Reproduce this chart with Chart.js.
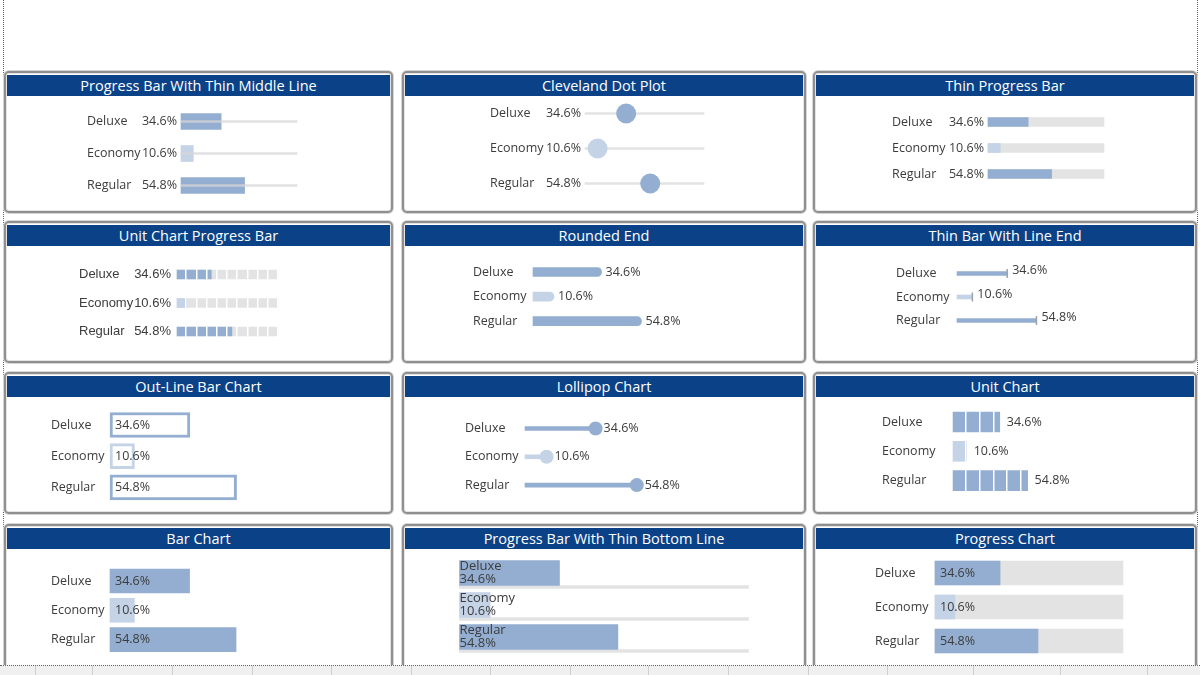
<!DOCTYPE html>
<html>
<head>
<meta charset="utf-8">
<script src="https://cdn.jsdelivr.net/npm/chart.js@4.4.1/dist/chart.umd.min.js"></script>
<style>
  html, body { margin: 0; padding: 0; background: #fff; }
  body { width: 1200px; height: 675px; position: relative; overflow: hidden; font-family: "Open Sans", "Noto Sans", sans-serif; }
  .edge { position: absolute; top: 0; height: 665px; border-left: 1px dotted #666; }
  .panel { position: absolute; box-sizing: border-box; border: 2px solid #8f8f8f; border-radius: 5px; background: #fff;
           box-shadow: 0 0 0 1px #d6d6d6, inset 0 0 0 1px #e4e4e4; overflow: hidden; }
  .panel canvas { position: absolute; left: 0; top: 0; }
  .title { position: absolute; left: 1px; right: 1px; top: 2px; height: 21px; background: #0b4287; color: #fff;
           font-size: 14.5px; line-height: 21px; text-align: center; z-index: 2; white-space: nowrap; }
  .strip { position: absolute; left: 0; top: 665px; width: 1200px; height: 10px; background: #f0f0f0; border-top: 1px dotted #666; z-index: 5; }
  .strip i { position: absolute; top: 0; height: 10px; border-left: 1px solid #cfcfcf; }
</style>
</head>
<body>
<div class="edge" style="left:3px"></div>
<div class="edge" style="left:1197px"></div>
<div class="strip" id="strip"></div>
<script>
// Data
const categories = ['Deluxe', 'Economy', 'Regular'];
const shares = [34.6, 10.6, 54.8];
const fullScale = [100, 100, 100];
const shareColors = ['#93aed0', '#c5d3e6', '#93aed0'];
const trackColor = '#e3e3e3';

// Page grid
const cols = [{x: 4, w: 389}, {x: 402, w: 404}, {x: 813, w: 384}];
const rows = [{y: 71, h: 142}, {y: 221, h: 142}, {y: 372, h: 142}, {y: 524, h: 146}];
const stripLines = [35, 92, 172, 252, 331, 411, 490, 570, 648, 728, 808, 887, 973, 1060, 1147];

const SEGOE = '"Open Sans", "Noto Sans", sans-serif';
const ARIAL = '"Liberation Sans", Arial, sans-serif';
const TEXT = '#3c3c3c';

function pct(v) { return v.toFixed(1) + '%'; }

// value labels drawn from the bar / point elements
const barText = {
    id: 'barText',
    afterDraw(chart, args, o) {
        if (!o.mode) return;
        const {ctx, chartArea, scales} = chart;
        const ds = chart.data.datasets[o.dataset];
        const meta = chart.getDatasetMeta(o.dataset);
        ctx.save();
        ctx.font = o.font;
        ctx.fillStyle = TEXT;
        ctx.textBaseline = 'middle';
        meta.data.forEach((el, i) => {
            const txt = pct(ds.data[i]);
            const y = el.y + (o.dy || 0);
            const base = scales.x.getPixelForValue(0);
            if (o.mode === 'before') {
                ctx.textAlign = 'right';
                ctx.fillText(txt, chartArea.left - o.dx, y);
            } else if (o.mode === 'after') {
                ctx.textAlign = 'left';
                ctx.fillText(txt, el.x + o.dx, y);
            } else if (o.mode === 'inside') {
                ctx.textAlign = 'left';
                ctx.fillText(txt, base + o.dx, y);
            } else if (o.mode === 'stacked') {
                ctx.textAlign = 'left';
                ctx.fillText(chart.data.labels[i], base + o.dx, y - o.lead / 2);
                ctx.fillText(txt, base + o.dx, y + o.lead / 2);
            }
        });
        ctx.restore();
    }
};
Chart.register(barText);

function addPanel(col, row, title, g, datasets, text, units) {
    const c = cols[col], r = rows[row];
    const panel = document.createElement('div');
    panel.className = 'panel';
    panel.style.cssText = `left:${c.x}px;top:${r.y}px;width:${c.w}px;height:${r.h}px`;
    const head = document.createElement('div');
    head.className = 'title';
    head.textContent = title;
    const cv = document.createElement('canvas');
    const ox = c.x + 2, oy = r.y + 2, cw = c.w - 4, ch = r.h - 4;
    cv.width = cw;
    cv.height = ch;
    panel.append(cv, head);
    document.body.appendChild(panel);

    const showCats = g.labelX !== undefined;
    const padding = {
        left: (showCats ? g.labelX : g.x0) - ox,
        right: ox + cw - g.x1,
        top: g.y0 - g.gap / 2 - oy,
        bottom: oy + ch - (g.y0 + 2.5 * g.gap)
    };
    const xScale = units ? {
        min: 0, max: 100, display: true,
        ticks: {display: false, stepSize: 10},
        grid: {color: '#ffffff', lineWidth: 1.5, drawTicks: false, z: 1},
        border: {display: false}
    } : {min: 0, max: 100, display: false};

    const yScale = {
        display: showCats,
        grid: {display: false},
        border: {display: false},
        ticks: {crossAlign: 'far', padding: 0, color: TEXT, font: {family: g.font || SEGOE, size: g.catSize || 12.5}}
    };
    if (showCats) yScale.afterFit = s => { s.width = g.x0 - g.labelX; };

    new Chart(cv, {
        type: 'bar',
        data: {labels: categories, datasets: datasets},
        options: {
            indexAxis: 'y',
            responsive: false,
            animation: false,
            events: [],
            layout: {padding: padding},
            plugins: {legend: {display: false}, tooltip: {enabled: false}, barText: text},
            scales: {x: xScale, y: yScale}
        }
    });
}

const bar = (data, color, thick, more) => Object.assign({data: data, backgroundColor: color, barThickness: thick,
    grouped: false, clip: false}, more || {});
const dots = (radius, more) => Object.assign({type: 'line', indexAxis: 'y', data: shares, showLine: false, pointRadius: radius,
    pointHoverRadius: radius, pointBackgroundColor: shareColors, pointBorderWidth: 0, clip: false}, more || {});
const fv = '12.5px ' + SEGOE;

// Row 1
addPanel(0, 0, 'Progress Bar With Thin Middle Line',
    {labelX: 87, x0: 181, x1: 297, y0: 121.5, gap: 32},
    [bar(fullScale, 'rgba(214,214,214,0.75)', 2), bar(shares, shareColors, 16)],
    {mode: 'before', dataset: 1, dx: 4, font: fv});

addPanel(1, 0, 'Cleveland Dot Plot',
    {labelX: 490, x0: 585, x1: 704, y0: 114, gap: 36},
    [dots(10), bar(fullScale, trackColor, 2)],
    {mode: 'before', dataset: 0, dx: 4, font: fv});

addPanel(2, 0, 'Thin Progress Bar',
    {labelX: 892, x0: 988, x1: 1104, y0: 122, gap: 26},
    [bar(shares, shareColors, 9), bar(fullScale, trackColor, 9)],
    {mode: 'before', dataset: 0, dx: 4, font: fv});

// Row 2
addPanel(0, 1, 'Unit Chart Progress Bar',
    {labelX: 79, x0: 176, x1: 278, y0: 274.5, gap: 28.5, font: ARIAL, catSize: 13},
    [bar(shares, shareColors, 9), bar(fullScale, trackColor, 9)],
    {mode: 'before', dataset: 0, dx: 5, font: '13px ' + ARIAL}, true);

addPanel(1, 1, 'Rounded End',
    {labelX: 473, x0: 533, x1: 731, y0: 272, gap: 24.6},
    [bar(shares, shareColors, 9, {borderRadius: 5, borderSkipped: 'start'})],
    {mode: 'after', dataset: 0, dx: 4, font: fv});

addPanel(2, 1, 'Thin Bar With Line End',
    {labelX: 896, x0: 957, x1: 1102, y0: 273.5, gap: 23.5},
    [dots(4.5, {pointStyle: 'line', pointRotation: 90, pointBorderColor: '#9aa2ae', pointBorderWidth: 1.5}),
     bar(shares, shareColors, 4)],
    {mode: 'after', dataset: 1, dx: 5, dy: -3, font: fv});

// Row 3
addPanel(0, 2, 'Out-Line Bar Chart',
    {labelX: 51, x0: 110, x1: 341, y0: 425, gap: 31.2},
    [bar(shares, '#ffffff', 25, {borderColor: shareColors, borderWidth: 3, borderSkipped: false})],
    {mode: 'inside', dataset: 0, dx: 5, font: fv});

addPanel(1, 2, 'Lollipop Chart',
    {labelX: 465, x0: 525, x1: 729, y0: 428.5, gap: 28.3},
    [dots(7), bar(shares, shareColors, 4)],
    {mode: 'after', dataset: 0, dx: 8, font: fv});

addPanel(2, 2, 'Unit Chart',
    {labelX: 882, x0: 952, x1: 1090, y0: 422, gap: 29.3},
    [bar(shares, shareColors, 20)],
    {mode: 'after', dataset: 0, dx: 7, font: fv}, true);

// Row 4
addPanel(0, 3, 'Bar Chart',
    {labelX: 51, x0: 110, x1: 340, y0: 581, gap: 29.3},
    [bar(shares, shareColors, 24)],
    {mode: 'inside', dataset: 0, dx: 5, font: fv});

addPanel(1, 3, 'Progress Bar With Thin Bottom Line',
    {x0: 459.5, x1: 748.5, y0: 585.5, gap: 32},
    [bar(shares, shareColors, 25, {grouped: true}), bar(fullScale, trackColor, 3, {grouped: true})],
    {mode: 'stacked', dataset: 0, dx: 0, lead: 12.6, font: '13px ' + SEGOE});

addPanel(2, 3, 'Progress Chart',
    {labelX: 875, x0: 935, x1: 1123, y0: 573, gap: 34},
    [bar(shares, shareColors, 24), bar(fullScale, trackColor, 24)],
    {mode: 'inside', dataset: 0, dx: 5, font: fv});

// bottom strip separators
const strip = document.getElementById('strip');
stripLines.forEach(x => {
    const i = document.createElement('i');
    i.style.left = x + 'px';
    strip.appendChild(i);
});
</script>
</body>
</html>
